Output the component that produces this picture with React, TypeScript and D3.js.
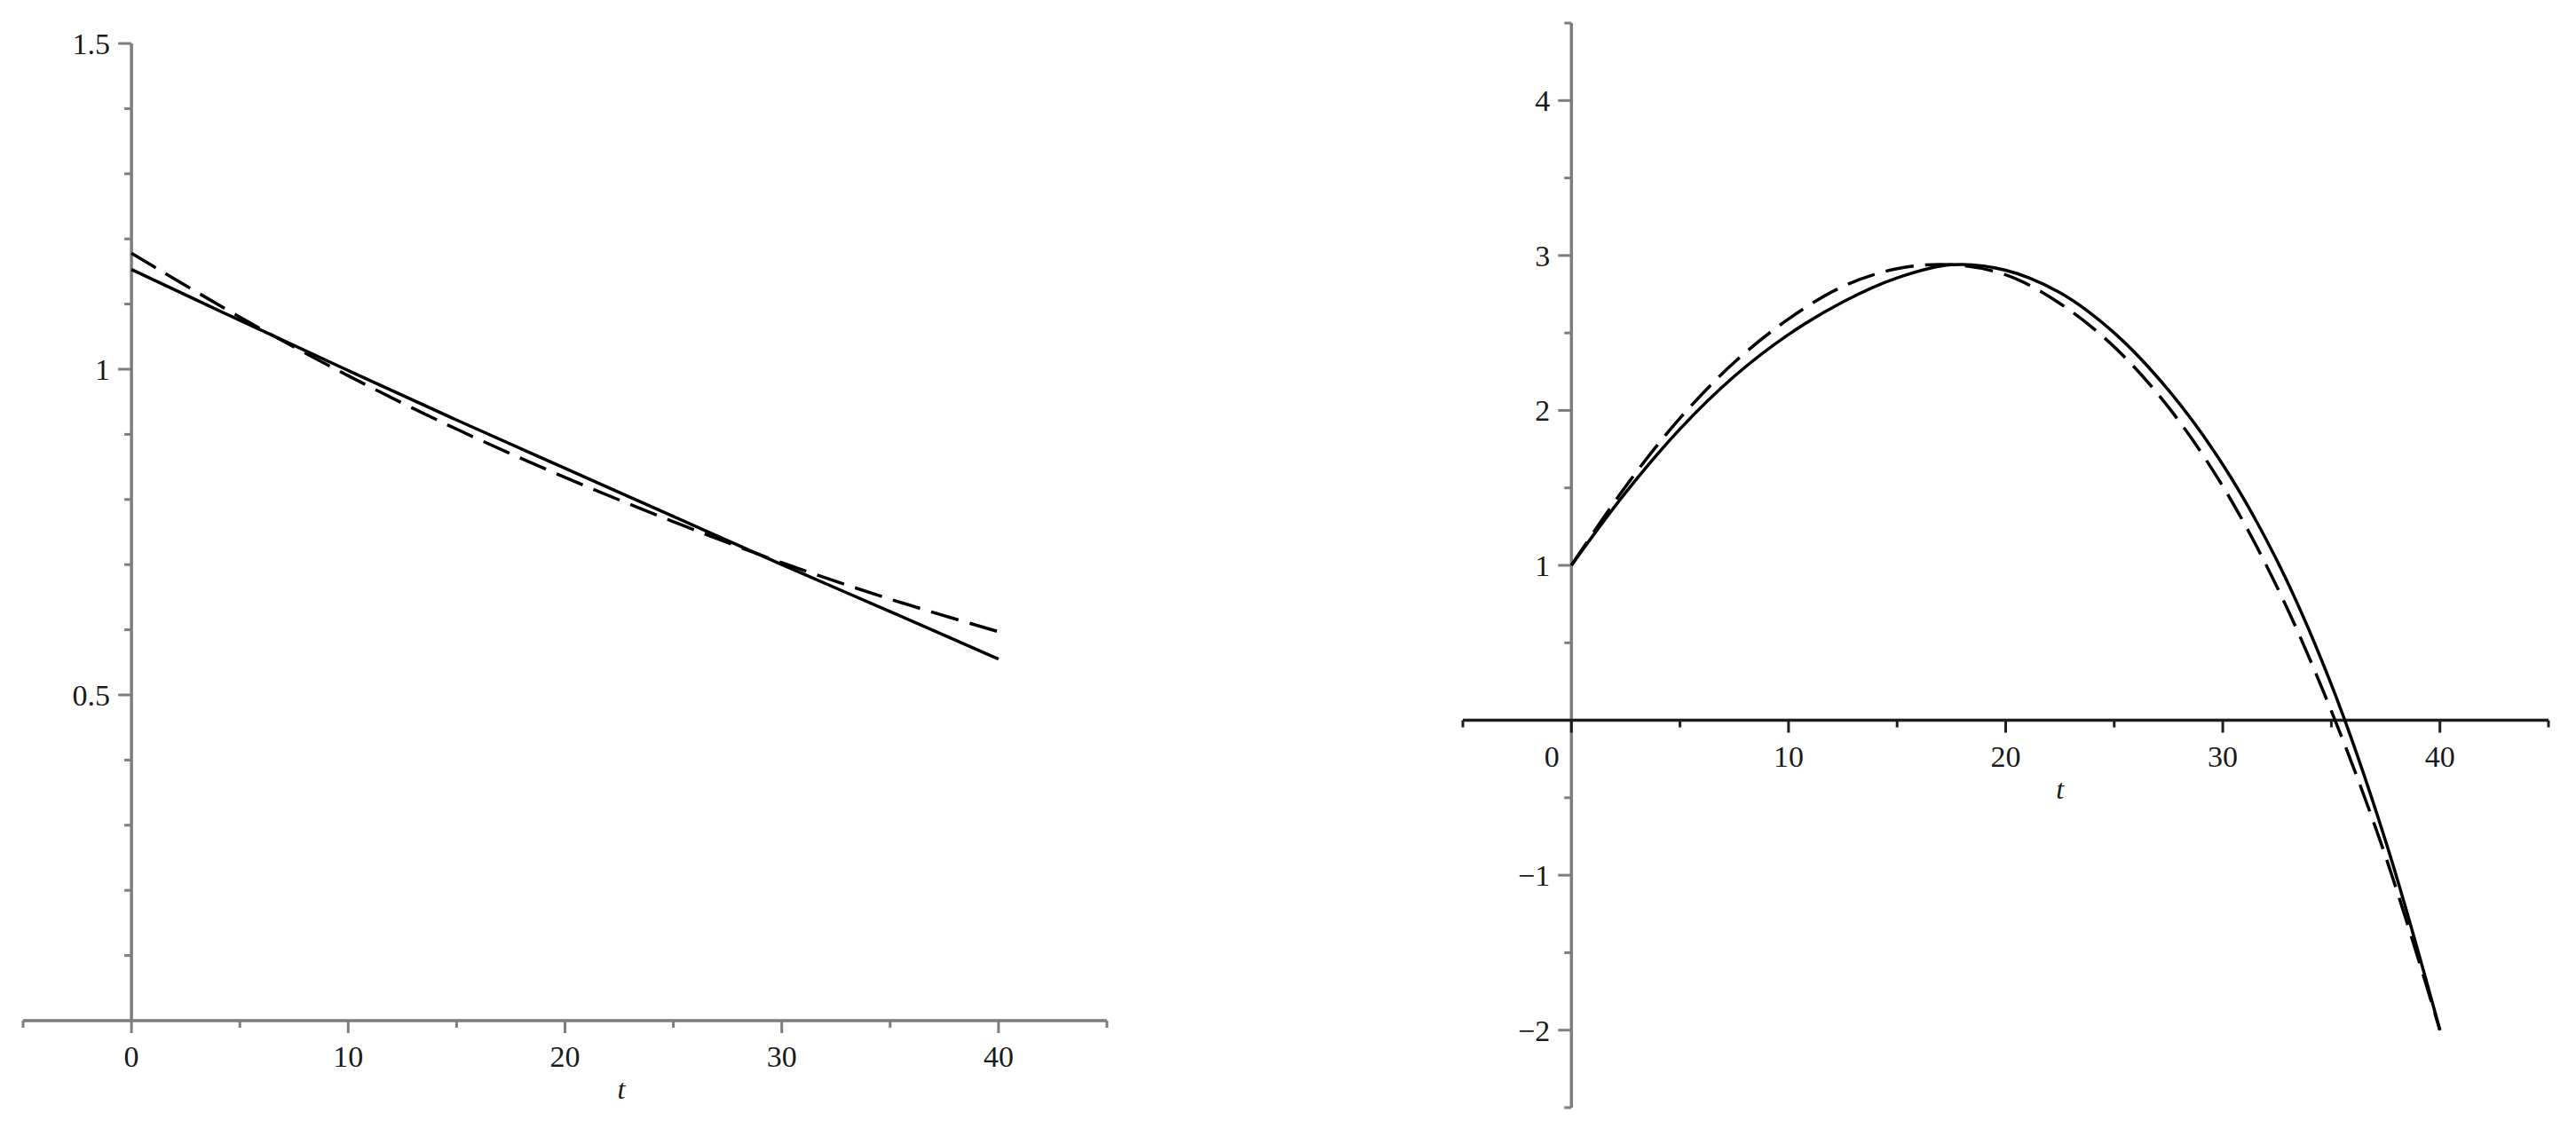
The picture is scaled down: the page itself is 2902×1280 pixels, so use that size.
import * as React from 'react';
import * as d3 from 'd3';

// left panel: slowly decaying pair
const leftT = [0, 5, 10, 15, 20, 25, 30, 35, 40];
const leftSolid = [1.153, 1.075, 0.998, 0.922, 0.848, 0.774, 0.7, 0.628, 0.555];
const leftDashed = [1.178, 1.08, 0.99, 0.908, 0.834, 0.766, 0.703, 0.647, 0.597];

// right panel: rise, peak near t=17.5, then fall
const rightT = [0, 2.5, 5, 7.5, 10, 12.5, 15, 17.5, 20, 22.5, 25, 27.5, 30, 32.5, 35, 37.5, 40];
const rightSolid = [1.0, 1.47, 1.88, 2.22, 2.49, 2.7, 2.855, 2.94, 2.905, 2.76, 2.5, 2.13, 1.65, 1.03, 0.23, -0.78, -2.0];
const rightDashed = [1.0, 1.51, 1.95, 2.31, 2.59, 2.8, 2.915, 2.94, 2.875, 2.69, 2.41, 2.02, 1.51, 0.86, 0.06, -0.88, -2.0];

const xTickLabels = [0, 10, 20, 30, 40];
const leftYLabels = [0.5, 1, 1.5];
const rightYLabels = [-2, -1, 1, 2, 3, 4];

const FONT = "'Liberation Serif', 'Times New Roman', serif";
const AXIS_GRAY = '#7d7d7d';

const Panel = ({ xRange, yRange, yDomain, yMinorStep, yMajorStep, yLabels, series, xAxisColor, zeroLabelDx, xLabelAt }) => {
  const x = d3.scaleLinear().domain([-5, 45]).range(xRange);
  const y = d3.scaleLinear().domain(yDomain).range(yRange);
  const line = d3
    .line()
    .x((d) => x(d[0]))
    .y((d) => y(d[1]))
    .curve(d3.curveCatmullRom.alpha(0.5));

  const xTicks = d3.range(-5, 45.001, 5);
  const nY = Math.round((yDomain[1] - yDomain[0]) / yMinorStep);
  const yTicks = d3.range(0, nY + 1).map((i) => +(yDomain[0] + i * yMinorStep).toFixed(4));
  const isMajor = (v, step) => Math.abs(v / step - Math.round(v / step)) < 1e-6;
  const x0 = x(0);
  const yAxis0 = y(0);

  return (
    <g>
      {/* y axis */}
      <line x1={x0} x2={x0} y1={y(yDomain[0])} y2={y(yDomain[1])} stroke={AXIS_GRAY} strokeWidth={3.5} />
      {yTicks.map((v) => {
        if (Math.abs(v) < 1e-9) return null;
        const len = isMajor(v, yMajorStep) ? 15 : 8;
        return <line key={'yt' + v} x1={x0 - len} x2={x0} y1={y(v)} y2={y(v)} stroke={AXIS_GRAY} strokeWidth={3} />;
      })}
      {yLabels.map((v) => (
        <text
          key={'yl' + v}
          x={x0 - 24}
          y={y(v)}
          dy='0.35em'
          textAnchor='end'
          fontFamily={FONT}
          fontSize={34}
          fill='#1a1a1a'>
          {v < 0 ? '\u2212' + Math.abs(v) : String(v)}
        </text>
      ))}

      {/* x axis */}
      <line x1={x(-5)} x2={x(45)} y1={yAxis0} y2={yAxis0} stroke={xAxisColor} strokeWidth={3.5} />
      {xTicks.map((v) => {
        const len = isMajor(v, 10) ? 14 : 8;
        return <line key={'xt' + v} x1={x(v)} x2={x(v)} y1={yAxis0} y2={yAxis0 + len} stroke={xAxisColor} strokeWidth={3} />;
      })}
      {xTickLabels.map((v) => (
        <text
          key={'xl' + v}
          x={x(v) + (v === 0 ? zeroLabelDx : 0)}
          y={yAxis0 + 52}
          textAnchor='middle'
          fontFamily={FONT}
          fontSize={34}
          fill='#1a1a1a'>
          {v}
        </text>
      ))}
      <text
        x={x(xLabelAt)}
        y={yAxis0 + 88}
        textAnchor='middle'
        fontFamily={FONT}
        fontStyle='italic'
        fontSize={32}
        fill='#1a1a1a'>
        t
      </text>

      {/* curves */}
      {series.map((s, i) => (
        <path
          key={i}
          d={line(s.t.map((t, j) => [t, s.v[j]]))}
          fill='none'
          stroke='#000'
          strokeWidth={3.5}
          strokeDasharray={s.dashed ? '32 13' : null}
        />
      ))}
    </g>
  );
};

export default function App() {
  return (
    <svg
      width={2902}
      height={1280}
      style={{ position: 'absolute', left: 0, top: 0, background: '#fff' }}>
      <rect width={2902} height={1280} fill='#fff' />
      <Panel
        xRange={[26, 1247]}
        yRange={[1150, 49]}
        yDomain={[0, 1.5]}
        yMinorStep={0.1}
        yMajorStep={0.5}
        yLabels={leftYLabels}
        xAxisColor={AXIS_GRAY}
        zeroLabelDx={0}
        xLabelAt={22.6}
        series={[
          { t: leftT, v: leftSolid, dashed: false },
          { t: leftT, v: leftDashed, dashed: true },
        ]}
      />
      <Panel
        xRange={[1648, 2871]}
        yRange={[1248, 26]}
        yDomain={[-2.5, 4.5]}
        yMinorStep={0.5}
        yMajorStep={1}
        yLabels={rightYLabels}
        xAxisColor='#1e1e1e'
        zeroLabelDx={-22}
        xLabelAt={22.5}
        series={[
          { t: rightT, v: rightSolid, dashed: false },
          { t: rightT, v: rightDashed, dashed: true },
        ]}
      />
    </svg>
  );
}
